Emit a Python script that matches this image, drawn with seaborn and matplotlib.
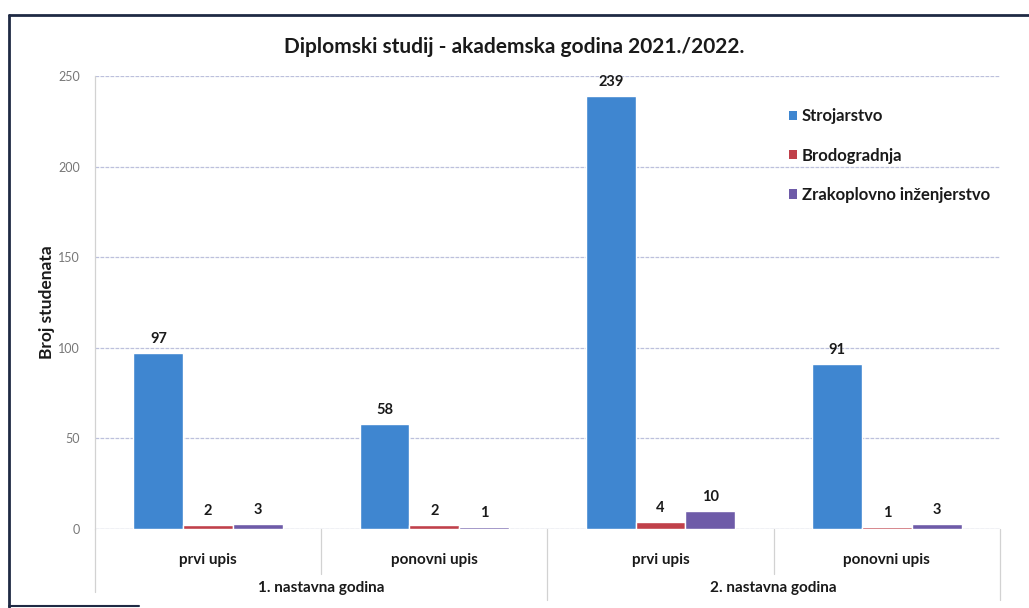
import matplotlib
matplotlib.use("Agg")
import matplotlib.pyplot as plt
import matplotlib.transforms as mtransforms
from matplotlib.lines import Line2D
from matplotlib.patches import Patch
import seaborn as sns
import pandas as pd

# Enrolment data, graduate study 2021./2022.
godine = ["1. nastavna godina", "2. nastavna godina"]
upisi = ["prvi upis", "ponovni upis", "prvi upis", "ponovni upis"]
smjerovi = ["Strojarstvo", "Brodogradnja", "Zrakoplovno inženjerstvo"]
strojarstvo = [97, 58, 239, 91]
brodogradnja = [2, 2, 4, 1]
zrakoplovno = [3, 1, 10, 3]
y_ticks = [0, 50, 100, 150, 200, 250]

boje = ["#3f86d0", "#c0404a", "#6e5ba8"]

kljucevi = [f"{i}|{u}" for i, u in enumerate(upisi)]
rows = []
for smjer, vals in zip(smjerovi, [strojarstvo, brodogradnja, zrakoplovno]):
    for k, v in zip(kljucevi, vals):
        rows.append({"kat": k, "smjer": smjer, "broj": v})
df = pd.DataFrame(rows)

sns.set_theme(style="white")
plt.rcParams["font.family"] = ["Lato", "DejaVu Sans"]

fig = plt.figure(figsize=(10.29, 6.08), dpi=100)
fig.patch.set_facecolor("white")
ax = fig.add_axes([0.0923, 0.1299, 0.8795, 0.7451])

sns.barplot(data=df, x="kat", y="broj", hue="smjer", order=kljucevi,
            hue_order=smjerovi, palette=boje, width=0.66, saturation=1,
            errorbar=None, legend=False, ax=ax, zorder=3)

for cont in ax.containers:
    ax.bar_label(cont, fmt="%d", padding=5, fontsize=10.5, fontweight="bold",
                 color="#1a1a1a")

ax.set_xlim(-0.5, 3.5)
ax.set_ylim(0, 250)
ax.set_yticks(y_ticks)
ax.set_yticklabels([str(t) for t in y_ticks], fontsize=9, color="#777777")
ax.tick_params(axis="y", length=0, pad=11)
ax.set_xticks(range(len(upisi)))
ax.set_xticklabels(upisi, fontsize=11, fontweight="bold", color="#1a1a1a")
ax.tick_params(axis="x", length=0, pad=17)
ax.set_xlabel("")
ax.set_ylabel("Broj studenata", fontsize=12.5, fontweight="bold",
              color="#1a1a1a", labelpad=2)

ax.grid(axis="y", color="#bcc0dc", linewidth=0.9, linestyle=(0, (3, 1)), zorder=0)
for s in ["top", "right", "bottom"]:
    ax.spines[s].set_visible(False)
ax.spines["left"].set_color("#d2d2d2")
ax.spines["left"].set_linewidth(0.9)
ax.axhline(0, color="#c8c8d8", linewidth=0.9, zorder=2)

# Two-level category axis: separators and year labels
tr = mtransforms.blended_transform_factory(ax.transData, ax.transAxes)
for xb, ylow in [(-0.5, -0.14), (0.5, -0.10), (1.5, -0.157), (2.5, -0.10), (3.5, -0.157)]:
    ax.add_line(Line2D([xb, xb], [0, ylow], transform=tr, color="#d2d2d2",
                       linewidth=0.9, clip_on=False))
for xc, g in zip([0.5, 2.5], godine):
    ax.text(xc, -0.13, g, transform=tr, ha="center", va="center",
            fontsize=11, fontweight="bold", color="#1a1a1a")

# Legend
handles = [Patch(facecolor=c, edgecolor="none") for c in boje]
leg = ax.legend(handles, smjerovi, loc="upper left", bbox_to_anchor=(0.75, 0.962),
                frameon=False, handlelength=0.5, handleheight=0.5,
                handletextpad=0.3, labelspacing=1.4,
                prop={"weight": "bold", "size": 12})
for t in leg.get_texts():
    t.set_color("#1a1a1a")

fig.text(0.5, 0.922, "Diplomski studij - akademska godina 2021./2022.",
         ha="center", va="center", fontsize=15, fontweight="bold", color="#1a1a1a")

# Chart frame
fig.add_artist(Line2D([0.009, 1.0], [0.975, 0.975], transform=fig.transFigure,
                      color="#1f2a44", linewidth=2))
fig.add_artist(Line2D([0.009, 0.009], [0.975, 0.0], transform=fig.transFigure,
                      color="#1f2a44", linewidth=2))
fig.add_artist(Line2D([0.009, 0.135], [0.003, 0.003], transform=fig.transFigure,
                      color="#1f2a44", linewidth=1.5))

fig.savefig("out.png", dpi=100)
